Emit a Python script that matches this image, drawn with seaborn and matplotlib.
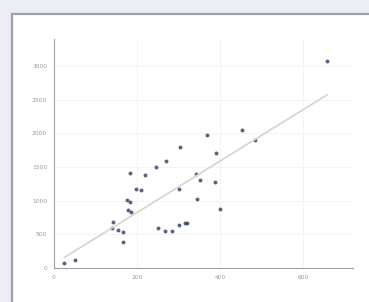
import numpy as np
import pandas as pd
import matplotlib
matplotlib.use("Agg")
import matplotlib.pyplot as plt
import seaborn as sns
from matplotlib.patches import Rectangle

# values
x_vals = [25, 50, 141, 140, 153, 166, 165, 176, 184, 179, 185, 182, 198, 210, 218,
          246, 270, 304, 301, 251, 268, 283, 300, 316, 320, 341, 351, 344, 368,
          389, 388, 399, 453, 485, 658]
y_vals = [69, 113, 685, 596, 567, 532, 389, 1010, 975, 857, 837, 1404, 1167, 1153, 1384,
          1497, 1596, 1798, 1177, 591, 542, 542, 640, 675, 675, 1399, 1305, 1020, 1975,
          1704, 1281, 882, 2044, 1906, 3069]
x_ticks = [0, 200, 400, 600]
y_ticks = [0, 500, 1000, 1500, 2000, 2500, 3000]

df = pd.DataFrame({"x": x_vals, "y": y_vals})

sns.set_style("whitegrid")
fig = plt.figure(figsize=(3.69, 3.02), dpi=100)
fig.patch.set_facecolor("#ededf7")

# white card with grey border (behind the axes)
card = Rectangle((12 / 369, -0.05), 1.1, 1 - 14 / 302 + 0.05, transform=fig.transFigure,
                 facecolor="white", edgecolor="#a0a0a8", linewidth=1.6, zorder=-5)
fig.patches.append(card)

ax = fig.add_axes([54 / 369, 34 / 302, 299 / 369, 229 / 302])
ax.set_facecolor("none")

sns.regplot(data=df, x="x", y="y", ax=ax, ci=None, truncate=True,
            scatter_kws={"s": 8, "color": "#2f3f60", "linewidths": 0},
            line_kws={"color": "#ddd0d0", "linewidth": 1.2})

ax.set_xlim(0, 720)
ax.set_ylim(0, 3400)
ax.set_xticks(x_ticks)
ax.set_yticks(y_ticks)
ax.set_xlabel("")
ax.set_ylabel("")
ax.tick_params(labelsize=4.3, colors="#9a9a9a", length=0, pad=5)
ax.grid(True, color="#f2f2f2", linewidth=0.6)
for side in ["top", "right"]:
    ax.spines[side].set_visible(False)
for side in ["left", "bottom"]:
    ax.spines[side].set_color("#a0a0a0")
    ax.spines[side].set_linewidth(0.8)

fig.savefig("out.png", dpi=100, facecolor=fig.get_facecolor())
